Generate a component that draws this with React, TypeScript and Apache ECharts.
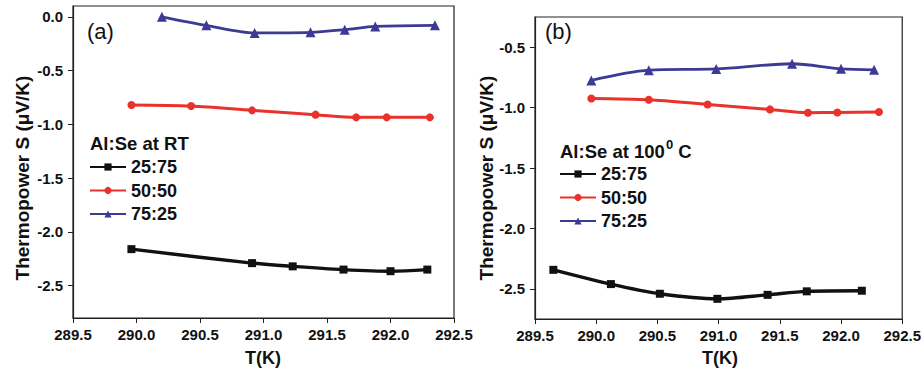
import React, { useEffect, useRef } from "react";
import * as echarts from "echarts";

// Panel (a): Al:Se at RT
const aT_25_75 = [289.96, 290.91, 291.23, 291.63, 292.0, 292.29];
const aS_25_75 = [-2.16, -2.29, -2.32, -2.35, -2.365, -2.35];
const aT_50_50 = [289.96, 290.43, 290.91, 291.41, 291.73, 291.97, 292.31];
const aS_50_50 = [-0.82, -0.83, -0.87, -0.91, -0.935, -0.935, -0.935];
const aT_75_25 = [290.2, 290.55, 290.93, 291.37, 291.64, 291.88, 292.35];
const aS_75_25 = [0.0, -0.08, -0.15, -0.145, -0.12, -0.09, -0.08];

// Panel (b): Al:Se at 100 C
const bT_25_75 = [289.65, 290.12, 290.52, 290.99, 291.4, 291.72, 292.17];
const bS_25_75 = [-2.343, -2.461, -2.541, -2.583, -2.55, -2.521, -2.516];
const bT_50_50 = [289.96, 290.43, 290.91, 291.42, 291.73, 291.97, 292.31];
const bS_50_50 = [-0.924, -0.935, -0.974, -1.015, -1.042, -1.04, -1.036];
const bT_75_25 = [289.96, 290.43, 290.98, 291.6, 292.0, 292.27];
const bS_75_25 = [-0.775, -0.69, -0.68, -0.637, -0.679, -0.687];

const seriesNames = ["25:75", "50:50", "75:25"];
const xTicks = [289.5, 290.0, 290.5, 291.0, 291.5, 292.0, 292.5];
const yTicksA = [0.0, -0.5, -1.0, -1.5, -2.0, -2.5];
const yTicksB = [-0.5, -1.0, -1.5, -2.0, -2.5];

const COLORS = ["#111111", "#e8322b", "#3d3a95"];
const SYMBOLS = ["rect", "circle", "triangle"];
const SYMBOL_SIZES = [8, 8, 10];
const LINE_W = [3.4, 3.0, 2.8];
const FONT = "Liberation Sans, Arial, sans-serif";

const zip = (xs: number[], ys: number[]) => xs.map((x, i) => [x, ys[i]]);

export default function App() {
  const ref = useRef<HTMLDivElement>(null);
  useEffect(() => {
    if (!ref.current) return;
    const chart = echarts.init(ref.current, undefined, { renderer: "svg" });

    const grids = [
      { left: 73, top: 6, right: 470, bottom: 52 },
      { left: 535, top: 17, right: 21, bottom: 51 },
    ];
    const yRanges = [
      { min: -2.8, max: 0.1, ticks: yTicksA },
      { min: -2.75, max: -0.25, ticks: yTicksB },
    ];

    const xAxis = grids.map((_, i) => ({
      type: "value",
      gridIndex: i,
      min: 289.5,
      max: 292.5,
      interval: 0.5,
      axisLine: { show: true, onZero: false, lineStyle: { color: "#222", width: 1.2 } },
      axisTick: { show: true, inside: false, length: 5, lineStyle: { color: "#222" }, customValues: xTicks },
      axisLabel: {
        customValues: xTicks,
        formatter: (v: number) => v.toFixed(1),
        color: "#111",
        fontFamily: FONT,
        fontWeight: "bold",
        fontSize: 15,
        margin: 9,
      },
      splitLine: { show: false },
    }));

    const yAxis = yRanges.map((r, i) => ({
      type: "value",
      gridIndex: i,
      min: r.min,
      max: r.max,
      axisLine: { show: true, onZero: false, lineStyle: { color: "#222", width: 1.2 } },
      axisTick: { show: true, inside: false, length: 5, lineStyle: { color: "#222" }, customValues: r.ticks },
      axisLabel: {
        customValues: r.ticks,
        formatter: (v: number) => v.toFixed(1),
        color: "#111",
        fontFamily: FONT,
        fontWeight: "bold",
        fontSize: 15,
        margin: 10,
      },
      splitLine: { show: false },
    }));

    const dataA = [zip(aT_25_75, aS_25_75), zip(aT_50_50, aS_50_50), zip(aT_75_25, aS_75_25)];
    const dataB = [zip(bT_25_75, bS_25_75), zip(bT_50_50, bS_50_50), zip(bT_75_25, bS_75_25)];

    const mk = (data: number[][], k: number, gi: number) => ({
      type: "line",
      name: seriesNames[k],
      xAxisIndex: gi,
      yAxisIndex: gi,
      data,
      smooth: 0.3,
      symbol: SYMBOLS[k],
      symbolSize: SYMBOL_SIZES[k],
      showSymbol: true,
      itemStyle: { color: COLORS[k] },
      lineStyle: { color: COLORS[k], width: LINE_W[k] },
      z: 3 - k,
    });

    const series = [
      ...dataA.map((d, k) => mk(d, k, 0)),
      ...dataB.map((d, k) => mk(d, k, 1)),
    ];

    const legendBase = {
      orient: "vertical",
      itemWidth: 36,
      itemHeight: 9,
      itemGap: 5.5,
      padding: 0,
      selectedMode: false,
      data: seriesNames,
      textStyle: {
        fontFamily: FONT,
        fontWeight: "bold",
        fontSize: 18,
        color: "#111",
        lineHeight: 18,
      },
    };

    const yName = "Thermopower S (\u03bcV/K)";
    const bold18 = { fontFamily: FONT, fontWeight: "bold", fontSize: 18, fill: "#111" };

    chart.setOption({
      animation: false,
      backgroundColor: "#ffffff",
      grid: grids.map((g) => ({ ...g, show: true, borderColor: "#222", borderWidth: 1.2, backgroundColor: "transparent" })),
      xAxis,
      yAxis,
      series,
      legend: [
        { ...legendBase, left: 89, top: 158 },
        { ...legendBase, left: 559, top: 165 },
      ],
      graphic: [
        {
          type: "text",
          left: 87,
          top: 20,
          style: { text: "(a)", fontFamily: FONT, fontSize: 22, fill: "#111" },
        },
        {
          type: "text",
          left: 545,
          top: 20,
          style: { text: "(b)", fontFamily: FONT, fontSize: 22, fill: "#111" },
        },
        {
          type: "text",
          x: 90,
          y: 143,
          style: { ...bold18, fontSize: 18.5, text: "Al:Se at RT", verticalAlign: "middle" },
        },
        {
          type: "text",
          x: 560,
          y: 151,
          style: {
            text: "{m|Al:Se at 100}{s|0}{m| C}",
            ...bold18,
            verticalAlign: "middle",
            rich: {
              m: { fontFamily: FONT, fontWeight: "bold", fontSize: 18.5, fill: "#111" },
              s: { fontFamily: FONT, fontWeight: "bold", fontSize: 13, fill: "#111", padding: [0, 0, 14, 1] },
            },
          },
        },
        {
          type: "text",
          x: 22,
          y: 178,
          rotation: Math.PI / 2,
          style: { ...bold18, fontSize: 19, text: yName, align: "center", verticalAlign: "middle" },
        },
        {
          type: "text",
          x: 486,
          y: 178,
          rotation: Math.PI / 2,
          style: { ...bold18, fontSize: 19, text: yName, align: "center", verticalAlign: "middle" },
        },
        {
          type: "text",
          x: 263,
          y: 358,
          style: { ...bold18, text: "T(K)", align: "center", verticalAlign: "middle" },
        },
        {
          type: "text",
          x: 720,
          y: 358,
          style: { ...bold18, text: "T(K)", align: "center", verticalAlign: "middle" },
        },
      ],
    });

    return () => chart.dispose();
  }, []);

  return (
    <div
      ref={ref}
      style={{ position: "fixed", left: 0, top: 0, width: 924, height: 370, background: "#fff" }}
    />
  );
}
